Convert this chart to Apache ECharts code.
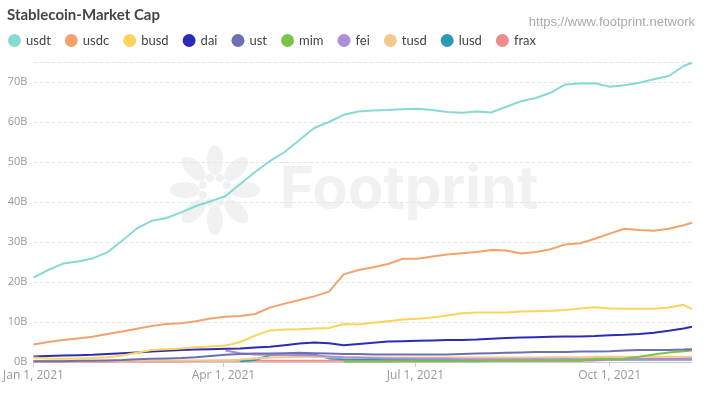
<!DOCTYPE html>
<html>
<head>
<meta charset="utf-8">
<script src="https://cdn.jsdelivr.net/npm/echarts@6/dist/echarts.min.js"></script>
<style>
  html, body { margin: 0; padding: 0; background: #fff; }
  #chart { width: 707px; height: 398px; }
</style>
</head>
<body>
<div id="chart"></div>
<script>
// days since Jan 1, 2021 (weekly samples)
const days = [0, 7, 14, 21, 28, 35, 42, 49, 56, 63, 70, 77, 84, 91, 98, 105, 112, 119, 126, 133, 140, 147, 154, 161, 168, 175, 182, 189, 196, 203, 210, 217, 224, 231, 238, 245, 252, 259, 266, 273, 280, 287, 294, 301, 308, 312]

const usdt = [21.1, 23.0, 24.6, 25.1, 25.9, 27.4, 30.3, 33.4, 35.3, 36.0, 37.4, 39.0, 40.2, 41.5, 44.5, 47.5, 50.2, 52.5, 55.5, 58.5, 60.0, 61.8, 62.6, 62.9, 63.0, 63.2, 63.3, 63.0, 62.5, 62.3, 62.6, 62.4, 63.8, 65.2, 66.0, 67.3, 69.4, 69.6, 69.7, 68.8, 69.2, 69.8, 70.7, 71.5, 74.0, 74.8]
const usdc = [4.4, 5.0, 5.5, 5.9, 6.3, 7.0, 7.6, 8.3, 9.0, 9.5, 9.7, 10.2, 10.9, 11.3, 11.5, 12.0, 13.6, 14.6, 15.5, 16.4, 17.6, 21.9, 23.0, 23.7, 24.5, 25.8, 25.8, 26.4, 26.9, 27.2, 27.5, 28.0, 27.9, 27.1, 27.5, 28.2, 29.4, 29.7, 30.8, 32.1, 33.3, 33.0, 32.8, 33.3, 34.2, 34.8]
const busd = [1.1, 0.9, 0.8, 0.9, 1.0, 1.2, 1.6, 2.3, 3.0, 3.2, 3.4, 3.7, 3.9, 4.1, 5.0, 6.6, 7.9, 8.1, 8.2, 8.4, 8.5, 9.5, 9.4, 9.8, 10.2, 10.6, 10.8, 11.1, 11.6, 12.2, 12.4, 12.4, 12.4, 12.6, 12.7, 12.8, 13.0, 13.4, 13.7, 13.4, 13.3, 13.3, 13.3, 13.6, 14.3, 13.2]
const dai = [1.4, 1.5, 1.6, 1.7, 1.8, 2.0, 2.2, 2.4, 2.6, 2.8, 3.0, 3.1, 3.2, 3.3, 3.4, 3.6, 3.8, 4.2, 4.6, 4.9, 4.7, 4.2, 4.5, 4.8, 5.1, 5.2, 5.3, 5.4, 5.5, 5.5, 5.6, 5.8, 6.0, 6.1, 6.2, 6.3, 6.4, 6.4, 6.5, 6.7, 6.8, 7.0, 7.3, 7.8, 8.4, 8.8]
const ust = [0.2, 0.2, 0.2, 0.3, 0.3, 0.4, 0.5, 0.7, 0.8, 0.9, 1.0, 1.2, 1.5, 1.8, 2.0, 2.1, 2.1, 2.2, 2.3, 2.2, 2.1, 2.0, 2.0, 1.9, 1.9, 1.9, 1.9, 1.9, 1.9, 2.0, 2.1, 2.2, 2.3, 2.4, 2.5, 2.5, 2.5, 2.6, 2.6, 2.7, 2.9, 3.0, 3.0, 3.0, 3.1, 3.2]
const mim = [null, null, null, null, null, null, null, null, null, null, null, null, null, null, null, null, null, null, null, null, null, 0.1, 0.1, 0.1, 0.1, 0.2, 0.2, 0.2, 0.2, 0.2, 0.2, 0.3, 0.3, 0.3, 0.3, 0.3, 0.3, 0.3, 0.8, 0.8, 0.9, 1.3, 1.9, 2.4, 2.7, 2.9]
const fei = [null, null, null, null, null, null, null, null, null, null, null, null, null, 2.9, 2.2, 1.9, 1.8, 1.8, 1.7, 1.6, 1.4, 1.2, 1.1, 1.0, 0.9, 0.9, 0.8, 0.8, 0.8, 0.7, 0.7, 0.7, 0.7, 0.7, 0.7, 0.6, 0.6, 0.6, 0.6, 0.6, 0.6, 0.6, 0.6, 0.6, 0.6, 0.6]
const tusd = [0.3, 0.3, 0.3, 0.3, 0.3, 0.3, 0.3, 0.4, 0.4, 0.4, 0.4, 0.4, 0.4, 0.4, 0.6, 0.9, 1.1, 1.2, 1.3, 1.3, 1.2, 1.1, 1.1, 1.1, 1.1, 1.1, 1.1, 1.1, 1.1, 1.1, 1.1, 1.1, 1.1, 1.1, 1.1, 1.2, 1.2, 1.2, 1.3, 1.3, 1.3, 1.3, 1.3, 1.3, 1.3, 1.3]
const lusd = [null, null, null, null, null, null, null, null, null, null, null, null, null, null, 0.2, 0.5, 1.7, 1.9, 2.0, 1.9, 0.9, 0.7, 0.6, 0.6, 0.6, 0.6, 0.5, 0.5, 0.5, 0.5, 0.5, 0.5, 0.5, 0.5, 0.6, 0.6, 0.7, 0.6, 0.6, 0.6, 0.6, 0.6, 0.6, 0.6, 0.6, 0.6]
const frax = [0.1, 0.1, 0.1, 0.15, 0.15, 0.15, 0.2, 0.2, 0.2, 0.2, 0.2, 0.25, 0.3, 0.3, 0.3, 0.3, 0.3, 0.3, 0.3, 0.3, 0.3, 0.3, 0.3, 0.3, 0.3, 0.3, 0.3, 0.3, 0.3, 0.3, 0.3, 0.3, 0.3, 0.3, 0.3, 0.3, 0.3, 0.3, 0.4, 0.6, 0.7, 0.7, 0.8, 0.8, 0.9, 1.0]

const names = ['usdt', 'usdc', 'busd', 'dai', 'ust', 'mim', 'fei', 'tusd', 'lusd', 'frax']
const values = [usdt, usdc, busd, dai, ust, mim, fei, tusd, lusd, frax]
const colors = ['#86dad3', '#f4a26c', '#fdd35a', '#2c2cb8', '#6e6eb5', '#7cc24a', '#ae8fd6', '#f1c98b', '#2a9bb6', '#f08a8c']

// x tick labels: Jan 1, Apr 1, Jul 1, Oct 1 (as day offsets)
const labelDays = [0, 90, 181, 273]
const monthNames = ['Jan', 'Feb', 'Mar', 'Apr', 'May', 'Jun', 'Jul', 'Aug', 'Sep', 'Oct', 'Nov', 'Dec']

const dayLabel = d => {
  const dt = new Date(2021, 0, 1 + Math.round(d))
  return monthNames[dt.getMonth()] + ' ' + dt.getDate() + ', ' + dt.getFullYear()
}

const chart = echarts.init(document.getElementById('chart'))

const series = names.map((name, i) => ({
  name,
  type: 'line',
  data: days.map((d, j) => [d, values[i][j]]),
  showSymbol: false,
  symbol: 'circle',
  lineStyle: { width: 2, color: colors[i] },
  itemStyle: { color: colors[i] },
  z: 10 - i
}))

// faint Footprint watermark
const petals = []
for (let k = 0; k < 8; k++) {
  petals.push({
    type: 'ellipse',
    shape: { cx: 0, cy: -30, rx: 8, ry: 15 },
    rotation: -k * Math.PI / 4,
    style: { fill: '#f1f1f1' }
  })
  petals.push({
    type: 'circle',
    shape: { cx: 0, cy: -13, r: 4 },
    rotation: -k * Math.PI / 4 - Math.PI / 8,
    style: { fill: '#f1f1f1' }
  })
}

const option = {
  animation: false,
  color: colors,
  title: {
    text: 'Stablecoin-Market Cap',
    left: 2,
    top: 3,
    textStyle: { fontFamily: 'Lato', fontSize: 15, fontWeight: 'bold', color: '#444' }
  },
  legend: {
    data: names,
    left: 3,
    top: 29,
    icon: 'circle',
    itemWidth: 13,
    itemHeight: 13,
    itemGap: 14,
    textStyle: { fontFamily: 'Lato', fontSize: 13, color: '#444' }
  },
  graphic: [
    {
      type: 'text',
      right: 12,
      top: 16,
      style: { text: 'https://www.footprint.network', fill: '#aaa', font: '13px "Liberation Sans", Arial' }
    },
    {
      type: 'group',
      x: 215,
      y: 190,
      silent: true,
      z: -10,
      children: petals
    },
    {
      type: 'text',
      x: 280,
      y: 162,
      silent: true,
      z: -10,
      style: { text: 'Footprint', fill: '#f1f1f1', font: 'bold 58px Inter' }
    }
  ],
  grid: { left: 30, right: 15, top: 62, bottom: 36, containLabel: false },
  xAxis: {
    type: 'value',
    min: 0,
    max: 312,
    axisLine: { show: true, lineStyle: { color: '#ccc' } },
    axisTick: { show: true, customValues: labelDays, lineStyle: { color: '#ccc' } },
    splitLine: { show: false },
    axisLabel: {
      customValues: labelDays,
      color: '#999',
      fontSize: 12,
      fontFamily: 'Open Sans',
      formatter: v => dayLabel(v)
    }
  },
  yAxis: {
    type: 'value',
    min: 0,
    max: 75,
    interval: 10,
    axisLine: { show: false },
    axisTick: { show: false },
    splitLine: { lineStyle: { type: 'dashed', color: '#e6e6e6' } },
    axisLabel: {
      color: '#999',
      fontSize: 11,
      fontFamily: 'Open Sans',
      margin: 6,
      showMaxLabel: false,
      formatter: v => v + 'B'
    }
  },
  series
}

chart.setOption(option)
</script>
</body>
</html>
